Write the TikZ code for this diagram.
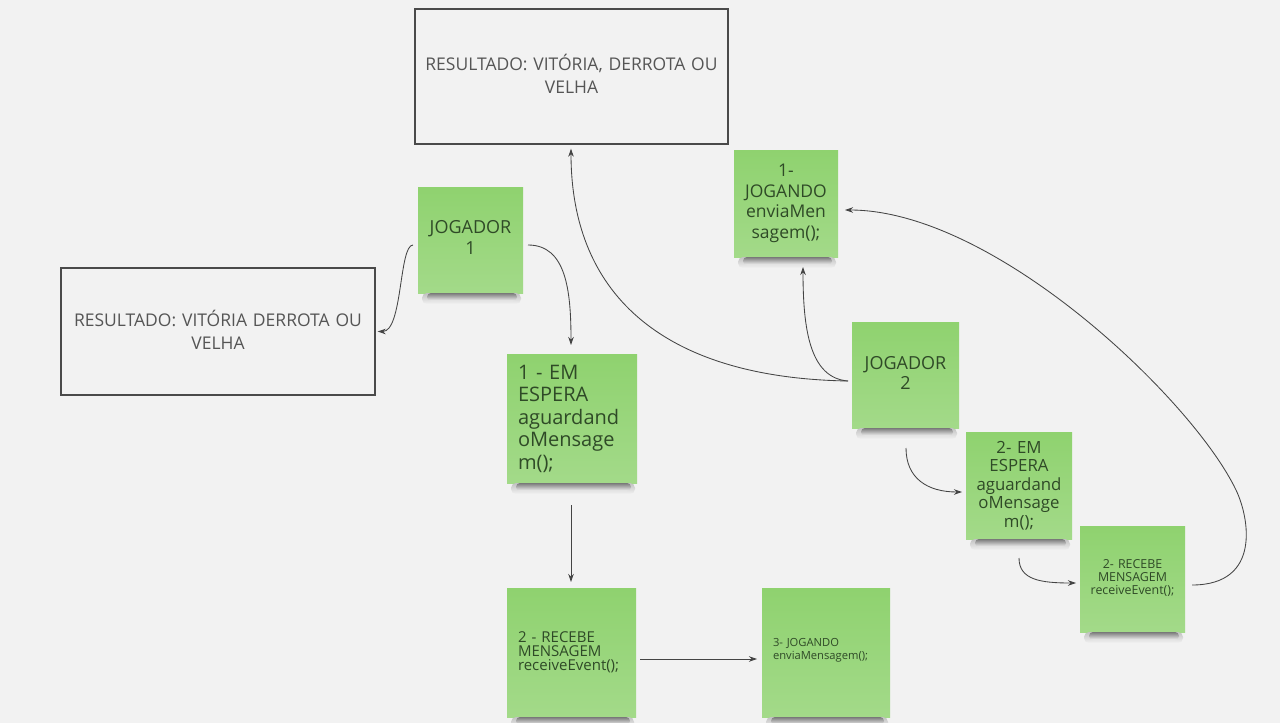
\documentclass[tikz,border=0pt]{standalone}
\usepackage{fontspec}
\setmainfont{Open Sans}
\usetikzlibrary{arrows.meta}
\hyphenpenalty=10000
\exhyphenpenalty=10000
\definecolor{bg}{HTML}{F2F2F2}
\definecolor{noteT}{HTML}{8FD26F}
\definecolor{noteB}{HTML}{A3DA89}
\definecolor{notetext}{HTML}{2F4A27}
\definecolor{boxtext}{HTML}{555555}
\definecolor{boxline}{HTML}{4A4A4A}
\definecolor{lineclr}{HTML}{444444}
\begin{document}
\begin{tikzpicture}[x=1pt,y=-1pt,
  note/.style={top color=noteT, bottom color=noteB, text=notetext, inner sep=0pt, outer sep=0pt},
  notec/.style={note, align=center},
  notel/.style={note, align=left},
  resbox/.style={draw=boxline, line width=1.4pt, fill=bg, text=boxtext, align=center, inner sep=0pt,
    font=\fontsize{17.5}{23.5}\selectfont},
  conn/.style={draw=lineclr, line width=0.85pt, -{Stealth[length=8pt,width=5.5pt]}},
  shad/.style={top color=black!50!bg, bottom color=bg, draw=none, rounded corners=4pt},
  shadsoft/.style={top color=black!20!bg, bottom color=bg, draw=none, rounded corners=5pt}
]
\fill[bg] (0,0) rectangle (1280,723);
\useasboundingbox (0,0) rectangle (1280,723);

% result boxes
\node[resbox, minimum width=313pt, minimum height=135pt, text width=305pt] (A) at (571.5,76.5)
  {RESULTADO: VITÓRIA, DERROTA OU\\VELHA\vspace{5pt}};
\node[resbox, minimum width=314pt, minimum height=127pt, text width=305pt] (B) at (218,331.5)
  {RESULTADO: VITÓRIA DERROTA OU\\VELHA\vspace{3pt}};

% sticky notes
\node[notec, minimum width=105pt, minimum height=106pt, text width=97pt,
  font=\fontsize{18}{21}\selectfont] (J1) at (470.5,240) {JOGADOR\\1\vspace{5pt}};
\node[notel, minimum width=130pt, minimum height=129pt, text width=108pt,
  font=\fontsize{20}{22.5}\selectfont] (N1) at (572,418.5)
  {1 - EM\\ESPERA\\aguardand\\oMensage\\m();};
\node[notel, minimum width=129pt, minimum height=129pt, text width=107pt,
  font=\fontsize{15}{14}\selectfont] (N2) at (571.5,652.5)
  {2 - RECEBE\\MENSAGEM\\receiveEvent();};
\node[notel, minimum width=128pt, minimum height=129pt, text width=106pt,
  font=\fontsize{11.2}{13}\selectfont] (N3) at (826,652.5)
  {3- JOGANDO\\enviaMensagem();\vspace{4pt}};
\node[notec, minimum width=107pt, minimum height=106pt, text width=99pt,
  font=\fontsize{18}{20.5}\selectfont] (J2) at (905.5,375) {JOGADOR\\2\vspace{4pt}};
\node[notec, minimum width=104pt, minimum height=107pt, text width=96pt,
  font=\fontsize{17.5}{20.5}\selectfont] (P1) at (786,203.5)
  {1-\\JOGANDO\\enviaMen\\sagem();};
\node[notec, minimum width=106pt, minimum height=107pt, text width=98pt,
  font=\fontsize{16.8}{18.4}\selectfont] (P2) at (1019,485.5)
  {2- EM\\ESPERA\\aguardand\\oMensage\\m();};
\node[notec, minimum width=105pt, minimum height=106pt, text width=97pt,
  font=\fontsize{12.4}{13}\selectfont] (P3) at (1132.5,579)
  {2- RECEBE\\MENSAGEM\\receiveEvent();\vspace{3pt}};

% shadows under notes
\foreach \n in {J1,N1,N2,N3,J2,P1,P2,P3}{
  \shade[shadsoft] ([shift={(4,0)}]\n.south west) rectangle ([shift={(-2,11)}]\n.south east);
  \shade[shad] ([shift={(9,0)}]\n.south west) rectangle ([shift={(-6,8)}]\n.south east);
}

% connectors
\draw[conn] ([shift={(-5,5)}]J1.west) .. controls +(-14,0) and +(25,0) .. ([shift={(2,0)}]B.east);
\draw[conn] ([shift={(5,5)}]J1.east) .. controls +(38,0) and +(0,-55) .. ([shift={(-1,-9)}]N1.north);
\draw[conn] ([shift={(-1,22)}]N1.south) -- ([shift={(-0.5,-6)}]N2.north);
\draw[conn] ([shift={(4,6.5)}]N2.east) -- ([shift={(-5,6.5)}]N3.west);
\draw[conn] ([shift={(-4,6)}]J2.west) .. controls +(-180,-3) and +(0,150) .. ([shift={(-0.5,4)}]A.south);
\draw[conn] ([shift={(-4,6)}]J2.west) .. controls +(-38,-3) and +(0,63) .. ([shift={(17,10)}]P1.south);
\draw[conn] ([shift={(0.5,20)}]J2.south) .. controls +(0,30) and +(-35,0) .. ([shift={(-4,6.5)}]P2.west);
\draw[conn] ([shift={(0,19)}]P2.south) .. controls +(0,22) and +(-35,0) .. ([shift={(-4,4)}]P3.west);
\coordinate (loop) at (1236,490);
\draw[conn] ([shift={(7,6)}]P3.east) .. controls +(70,0) and +(13,27) .. (loop)
  .. controls +(-43,-90) and +(150,0) .. ([shift={(7,6.5)}]P1.east);
\end{tikzpicture}
\end{document}
